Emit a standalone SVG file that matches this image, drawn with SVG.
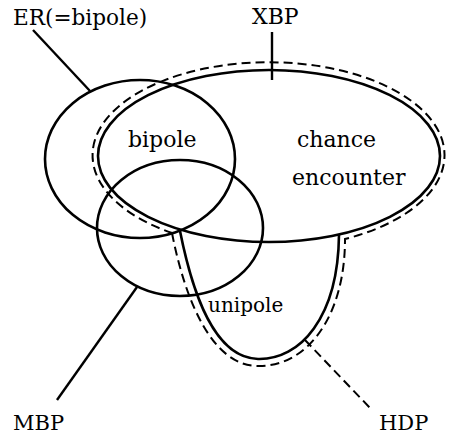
<svg xmlns="http://www.w3.org/2000/svg" width="449" height="434" viewBox="0 0 449 434">
  <style>
    .solid { fill: none; stroke: #000; stroke-width: 2.6; }
    .dash { fill: none; stroke: #000; stroke-width: 2; stroke-dasharray: 9 5; }
    .lead { fill: none; stroke: #000; stroke-width: 2.4; }
    .lbl { font-family: "DejaVu Serif", "Liberation Serif", serif; font-size: 21px; fill: #000; }
    .in { font-family: "DejaVu Serif", "Liberation Serif", serif; font-size: 22px; fill: #000; }
  </style>
  <rect width="449" height="434" fill="#fff"/>

  <!-- HDP: dashed outline around XBP and the unipole lobe -->
  <g id="hdp">
    <path class="dash" d="M172,233 C185,300 212,366 258,366 C306,367 345,318 345,239 A176,93 0 1 0 172,233 Z"/>
    <text class="lbl" x="379" y="430">HDP</text>
  </g>

  <!-- ER (=bipole) ellipse -->
  <g id="er">
    <ellipse class="solid" cx="140" cy="159" rx="95" ry="79"/>
    <text class="lbl" x="13" y="25" style="font-size:21.6px">ER(=bipole)</text>
  </g>

  <!-- XBP ellipse -->
  <g id="xbp">
    <ellipse class="solid" cx="269" cy="156" rx="171" ry="86"/>
    <text class="lbl" x="252" y="24" style="font-size:22px">XBP</text>
  </g>

  <!-- MBP ellipse -->
  <g id="mbp">
    <ellipse class="solid" cx="180" cy="228" rx="83" ry="68"/>
    <text class="lbl" x="13" y="430">MBP</text>
  </g>

  <!-- unipole lobe hanging below XBP -->
  <g id="unipole">
    <path class="solid" d="M180,231 C193,296 215,358 258,359 C300,360 338,318 339,235"/>
    <text class="in" x="208" y="312" style="font-size:20px">unipole</text>
  </g>

  <!-- region labels -->
  <g id="regions">
    <text class="in" x="128" y="147">bipole</text>
    <text class="in" x="297" y="147">chance</text>
    <text class="in" x="292" y="185">encounter</text>
  </g>

  <!-- leader lines -->
  <g id="connectors">
    <line class="lead" x1="33" y1="30" x2="90" y2="91"/>
    <line class="lead" x1="272" y1="32" x2="272" y2="80"/>
    <line class="lead" x1="137" y1="287" x2="57" y2="400"/>
    <line class="dash" x1="305" y1="340" x2="372" y2="410"/>
  </g>
</svg>
